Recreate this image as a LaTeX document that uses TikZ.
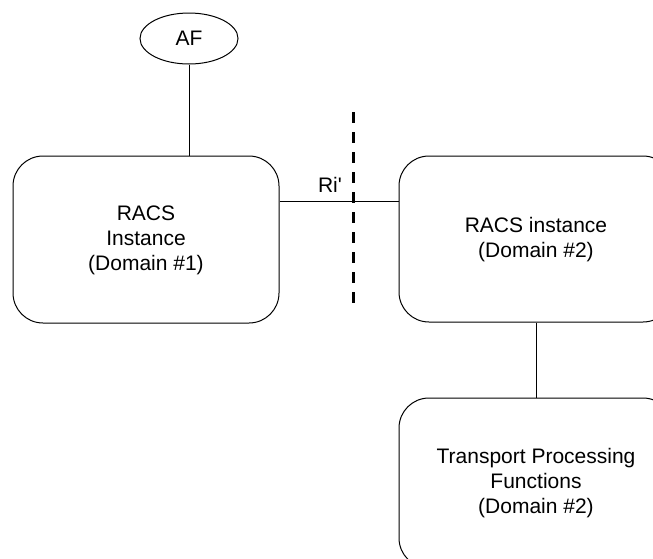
\documentclass[tikz,border=0pt]{standalone}
\usepackage{fontspec}
\setmainfont{Liberation Sans}
\usepackage{tikz}
\usetikzlibrary{shapes.geometric, positioning, calc}

\begin{document}
\begin{tikzpicture}[x=1pt, y=-1pt, font=\fontsize{21}{25}\selectfont, line width=1pt]
        \tikzstyle{racs}=[draw, rectangle, rounded corners=30pt, align=center, inner sep=0pt];
        \tikzstyle{fn}=[draw, ellipse, inner sep=0pt, minimum width=98pt, minimum height=51pt];
        \tikzstyle{cut}=[line width=3pt, dash pattern=on 11pt off 9pt];
        \clip (0,0) rectangle (653,558);
        \node[fn] (af) at (189,38.5) {AF};
        \node[racs, minimum width=266pt, minimum height=167pt] (racsA) at (146,239.5) {\\[-9pt]RACS\\Instance\\(Domain \#1)};
        \node[racs, minimum width=274pt, minimum height=166pt] (racsB) at (536,239) {\\[-9pt]RACS instance\\(Domain \#2)};
        \node[racs, minimum width=274pt, minimum height=170pt] (tpf) at (536,483) {\\[-9pt]Transport Processing\\Functions\\(Domain \#2)};
        \node (ri) at (330,185) {Ri\textquotesingle};
        \coordinate (riA) at ([yshift=38.5pt]racsA.east);
        \coordinate (cutTop) at (353,112);
        \coordinate (cutBot) at (353,312);

        \path
        (af.south) edge (af.south |- racsA.north)
        (riA) edge (riA -| racsB.west)
        (racsB.south) edge (tpf.north);
        \draw[cut] (cutTop) -- (cutBot);
\end{tikzpicture}
\end{document}
